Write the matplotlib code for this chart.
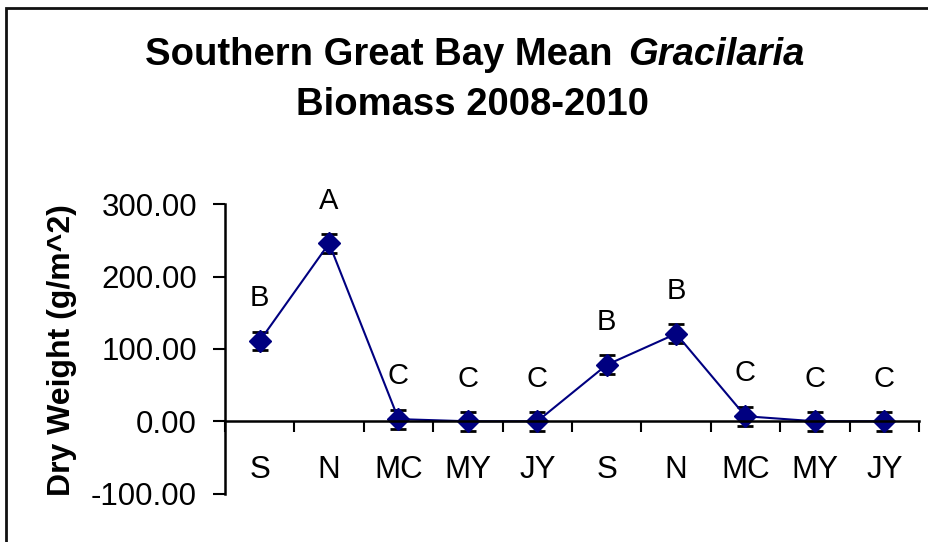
import numpy as np
import matplotlib.pyplot as plt
from matplotlib.patches import Rectangle
from matplotlib.ticker import FormatStrFormatter

plt.rcParams['font.family'] = ['Liberation Sans', 'DejaVu Sans']

# sampling months over two years
months = ['S', 'N', 'MC', 'MY', 'JY', 'S', 'N', 'MC', 'MY', 'JY']
biomass = [111, 246, 3, 0, 0, 78, 121, 7, 0, 0]
std_err = [13, 13, 13, 13, 13, 13, 13, 13, 13, 13]
letters = ['B', 'A', 'C', 'C', 'C', 'B', 'B', 'C', 'C', 'C']

W, H = 929, 542
fig = plt.figure(figsize=(W / 100, H / 100), dpi=100)
ax = fig.add_axes([225 / W, 1 - 493.6 / H, 694 / W, 289.3 / H])

x = np.arange(len(months)) + 0.5
ax.errorbar(x, biomass, yerr=std_err, color='#000080', lw=1.5, marker='D', ms=11.5,
            ecolor='black', elinewidth=1.5, capsize=6, capthick=2)

# significance letters above each point
for xi, yi, ei, lab in zip(x, biomass, std_err, letters):
    ax.annotate(lab, (xi, yi + ei), xytext=(0, 24), textcoords='offset points',
                ha='center', va='center', fontsize=21)

ax.set_xlim(0, len(months))
ax.set_ylim(-100, 300)
ax.set_yticks([-100, 0, 100, 200, 300])
ax.yaxis.set_major_formatter(FormatStrFormatter('%.2f'))
ax.set_xticks(np.arange(len(months) + 1))
ax.set_xticklabels([])
ax.set_xticks(x, minor=True)
ax.set_xticklabels(months, minor=True)

ax.spines['top'].set_visible(False)
ax.spines['right'].set_visible(False)
ax.spines['bottom'].set_position(('data', 0))
for s in ['left', 'bottom']:
    ax.spines[s].set_linewidth(1.8)

ax.tick_params(axis='x', which='major', direction='out', length=8, width=1.5)
ax.tick_params(axis='x', which='minor', length=0, pad=24, labelsize=22.5)
ax.tick_params(axis='y', direction='out', length=8.6, width=1.5, pad=11.5, labelsize=22.5)

fig.text(62 / W, 1 - 350 / H, 'Dry Weight (g/m^2)', rotation=90, fontsize=23,
         fontweight='bold', ha='center', va='center')

# title, second half of first line in italics
fig.text(613 / W, 1 - 65 / H, 'Southern Great Bay Mean', fontsize=27.5,
         fontweight='bold', ha='right', va='baseline')
fig.text(628 / W, 1 - 65 / H, 'Gracilaria', fontsize=27.5, fontweight='bold',
         style='italic', ha='left', va='baseline')
fig.text(473 / W, 1 - 115 / H, 'Biomass 2008-2010', fontsize=27.5, fontweight='bold',
         ha='center', va='baseline')

# chart border
fig.add_artist(Rectangle((6 / W, -0.5), 2, 1.5 - 8 / H, transform=fig.transFigure,
                         fill=False, edgecolor='#111111', lw=2))

fig.savefig('out.png', dpi=100)
